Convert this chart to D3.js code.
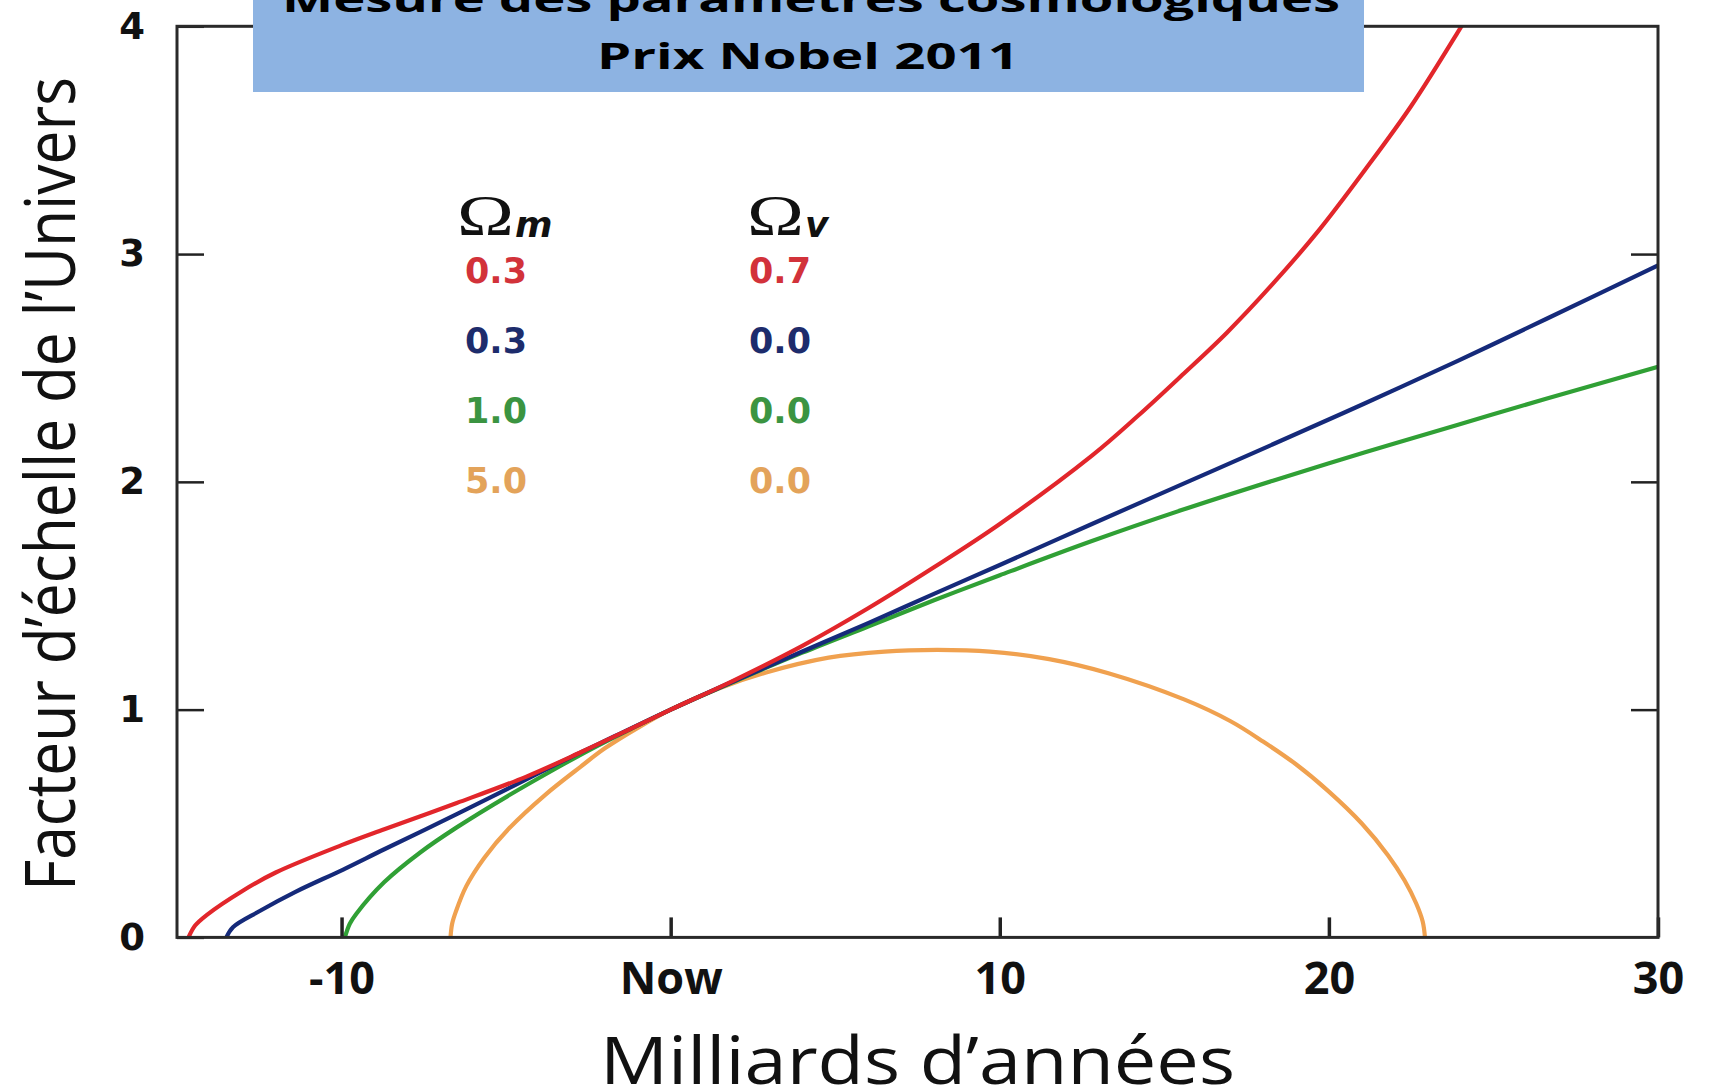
<!DOCTYPE html>
<html><head><meta charset="utf-8">
<script src="https://cdn.jsdelivr.net/npm/d3@7"></script>
<style>html,body{margin:0;padding:0;background:#fff;} svg{display:block}</style>
</head><body><svg id="c" width="1715" height="1091"></svg>
<script>
// ---------- DATA ----------
const xTickValues = [-10, 0, 10, 20, 30];
const xTickLabels = ["-10", "Now", "10", "20", "30"];
const yTickValues = [0, 1, 2, 3, 4];
const yTickLabels = ["0", "1", "2", "3", "4"];

// [milliards d'années, facteur d'échelle]
const redPts = [[-14.65,0],[-14.45,0.052],[-14.1,0.098],[-13.0,0.205],[-12.0,0.285],[-10,0.405],[-8.7,0.475],[-6.5,0.59],[-4.4,0.705],[-2.7,0.815],[-1.3,0.91],[0,1.0],[1.8,1.12],[4,1.28],[6,1.445],[8,1.625],[10,1.815],[12.8,2.115],[14.2,2.29],[15.55,2.47],[16.9,2.655],[18.3,2.87],[19.7,3.105],[21.1,3.37],[22.5,3.65],[23.9,3.97],[24.4,4.09]];
const bluePts = [[-13.5,0],[-13.3,0.045],[-12.5,0.115],[-11.4,0.2],[-9.95,0.298],[-8.7,0.387],[-6.5,0.541],[-4.9,0.656],[-3.3,0.773],[-1.6,0.89],[0,1.0],[2,1.13],[4,1.255],[6,1.38],[8,1.508],[10,1.635],[12.8,1.815],[15.55,1.99],[18.3,2.165],[21.1,2.345],[23.9,2.53],[26.6,2.715],[30,2.95]];
const greenPts = [[-9.9,0],[-9.75,0.06],[-9.55,0.104],[-8.7,0.243],[-7.6,0.374],[-6.5,0.483],[-4.9,0.625],[-3.3,0.757],[-2.4,0.828],[-1.2,0.916],[0,1.0],[2,1.128],[4,1.25],[6,1.365],[8,1.48],[10,1.59],[12.8,1.74],[15.55,1.877],[18.3,2.005],[21.1,2.13],[23.9,2.25],[26.6,2.365],[30,2.505]];
const orangePts = [[-6.69,0],[-6.64,0.06],[-6.53,0.112],[-6.21,0.225],[-5.66,0.35],[-4.9,0.48],[-3.82,0.625],[-2.73,0.75],[-2,0.83],[-1,0.92],[0,1.0],[1.5,1.095],[2.9,1.163],[4.8,1.228],[6.5,1.255],[8.1,1.262],[9.7,1.255],[11.5,1.222],[13.3,1.16],[15.6,1.045],[17,0.95],[18,0.86],[19,0.76],[20,0.64],[21,0.5],[21.8,0.36],[22.3,0.25],[22.65,0.15],[22.85,0.07],[22.92,0]];

const seriesColors = ["#e2262b", "#152a7a", "#30a035", "#f0a14f"];
const legendColors = ["#d2323a", "#1d2c6c", "#3b9441", "#e3a35a"];
const omegaM = ["0.3", "0.3", "1.0", "5.0"];
const omegaV = ["0.7", "0.0", "0.0", "0.0"];

// ---------- LAYOUT ----------
const svg = d3.select("#c");
const L = 177, R = 1658, T = 26.3, B = 937.4;
const x = d3.scaleLinear().domain([-15, 30]).range([L, R]);
const y = d3.scaleLinear().domain([0, 4]).range([B, T]);

svg.append("rect").attr("width", 1715).attr("height", 1091).attr("fill", "#fff");

svg.append("defs").append("clipPath").attr("id", "pc")
  .append("rect").attr("x", L).attr("y", T).attr("width", R - L).attr("height", B - T);

// curves
const line = d3.line().x(d => x(d[0])).y(d => y(d[1])).curve(d3.curveCatmullRom.alpha(0.5));
const allPts = [redPts, bluePts, greenPts, orangePts];
const g = svg.append("g").attr("clip-path", "url(#pc)");
[3, 2, 1, 0].forEach(i => {
  g.append("path").datum(allPts[i]).attr("d", line)
    .attr("fill", "none").attr("stroke", seriesColors[i])
    .attr("stroke-width", 4.2).attr("stroke-linejoin", "round").attr("stroke-linecap", "round");
});

// axes
const yAxis = d3.axisLeft(y).tickValues(yTickValues).tickFormat((d, i) => yTickLabels[i])
  .tickSize(-27).tickPadding(32);
const ya = svg.append("g").attr("transform", `translate(${L},0)`).call(yAxis);
ya.select(".domain").remove();
ya.selectAll("line").attr("stroke", "#222").attr("stroke-width", 2.5);
ya.selectAll("text").attr("font-family", "DejaVu Sans").attr("font-weight", "bold")
  .attr("font-size", 37).attr("fill", "#111");

const yAxisR = d3.axisRight(y).tickValues([1, 2, 3]).tickFormat("").tickSize(-27);
const yr = svg.append("g").attr("transform", `translate(${R},0)`).call(yAxisR);
yr.select(".domain").remove();
yr.selectAll("line").attr("stroke", "#222").attr("stroke-width", 2.5);

const xAxis = d3.axisBottom(x).tickValues(xTickValues).tickFormat((d, i) => xTickLabels[i])
  .tickSize(-20).tickPadding(25);
const xa = svg.append("g").attr("transform", `translate(0,${B})`).call(xAxis);
xa.select(".domain").remove();
xa.selectAll("line").attr("stroke", "#222").attr("stroke-width", 3.5);
xa.selectAll("text").attr("font-family", "Open Sans").attr("font-weight", "bold")
  .attr("font-size", 45).attr("fill", "#111");

// frame
svg.append("rect").attr("x", L).attr("y", T).attr("width", R - L).attr("height", B - T)
  .attr("fill", "none").attr("stroke", "#2a2a2a").attr("stroke-width", 3);

// axis titles
svg.append("text").attr("x", (L + R) / 2).attr("y", 1084).attr("text-anchor", "middle")
  .attr("font-family", "Open Sans").attr("font-size", 66).attr("fill", "#111")
  .attr("textLength", 635).attr("lengthAdjust", "spacingAndGlyphs")
  .text("Milliards d’années");

svg.append("text").attr("transform", "translate(75,484) rotate(-90)").attr("text-anchor", "middle")
  .attr("font-family", "Open Sans").attr("font-size", 69).attr("fill", "#111")
  .attr("textLength", 814).attr("lengthAdjust", "spacingAndGlyphs")
  .text("Facteur d’échelle de l’Univers");

// title box
svg.append("rect").attr("x", 253).attr("y", -5).attr("width", 1111).attr("height", 97)
  .attr("fill", "#8db3e2");
svg.append("text").attr("x", 811).attr("y", 12).attr("text-anchor", "middle")
  .attr("font-family", "Open Sans").attr("font-weight", "bold").attr("font-size", 36).attr("fill", "#000")
  .attr("textLength", 1058).attr("lengthAdjust", "spacingAndGlyphs")
  .text("Mesure des paramètres cosmologiques");
svg.append("text").attr("x", 808).attr("y", 69).attr("text-anchor", "middle")
  .attr("font-family", "Open Sans").attr("font-weight", "bold").attr("font-size", 36).attr("fill", "#000")
  .attr("textLength", 422).attr("lengthAdjust", "spacingAndGlyphs")
  .text("Prix Nobel 2011");

// legend
const lg = svg.append("g");
[[457, "m"], [747, "v"]].forEach(([lx, sub]) => {
  lg.append("text").attr("x", lx).attr("y", 235)
    .attr("font-family", "Liberation Serif").attr("font-size", 56).attr("fill", "#111")
    .attr("textLength", 57).attr("lengthAdjust", "spacingAndGlyphs").text("Ω");
  lg.append("text").attr("x", lx + 58).attr("y", 237)
    .attr("font-family", "DejaVu Sans").attr("font-style", "italic").attr("font-weight", "bold")
    .attr("font-size", 36).attr("fill", "#111").text(sub);
});
omegaM.forEach((v, i) => {
  lg.append("text").attr("x", 465).attr("y", 283 + 70 * i)
    .attr("font-family", "DejaVu Sans").attr("font-weight", "bold").attr("font-size", 35)
    .attr("fill", legendColors[i]).text(v);
});
omegaV.forEach((v, i) => {
  lg.append("text").attr("x", 749).attr("y", 283 + 70 * i)
    .attr("font-family", "DejaVu Sans").attr("font-weight", "bold").attr("font-size", 35)
    .attr("fill", legendColors[i]).text(v);
});
</script></body></html>
